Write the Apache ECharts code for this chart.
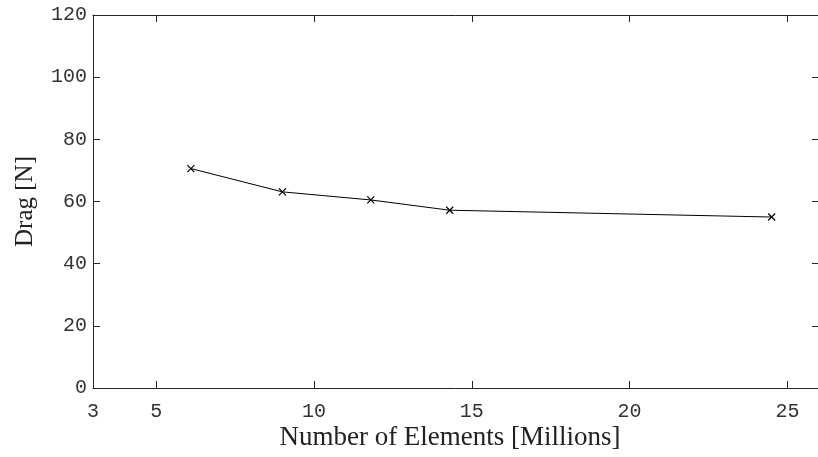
<!DOCTYPE html>
<html>
<head>
<meta charset="utf-8">
<script src="https://cdn.jsdelivr.net/npm/echarts@6/dist/echarts.min.js"></script>
<style>
  html, body { margin: 0; padding: 0; background: #fff; }
  #chart { width: 818px; height: 457px; }
</style>
</head>
<body>
<div id="chart"></div>
<script>
// mesh size (millions of elements) vs drag
const elements = [6.1, 9.0, 11.8, 14.3, 24.5]
const drag = [70.6, 63.1, 60.5, 57.2, 55.0]
const xTicks = [3, 5, 10, 15, 20, 25]

const axisColor = '#262626'
const tickFont = { fontFamily: 'Liberation Mono', fontSize: 20, color: '#333' }
const titleFont = { fontFamily: 'Liberation Serif', fontSize: 25, color: '#222' }

const chart = echarts.init(document.getElementById('chart'))

const xBase = {
  type: 'value',
  min: 3,
  max: 26,
  axisLine: { show: true, onZero: false, lineStyle: { color: axisColor, width: 1 } },
  axisTick: { show: true, inside: true, length: 7, customValues: xTicks, lineStyle: { color: axisColor } },
  splitLine: { show: false },
}
const yBase = {
  type: 'value',
  min: 0,
  max: 120,
  interval: 20,
  axisLine: { show: true, onZero: false, lineStyle: { color: axisColor, width: 1 } },
  axisTick: { show: true, inside: true, length: 7, lineStyle: { color: axisColor } },
  splitLine: { show: false },
}

chart.setOption({
  animation: false,
  grid: { left: 93, right: -1, top: 15, bottom: 69, outerBoundsMode: 'none', containLabel: false },
  xAxis: [
    {
      ...xBase,
      position: 'bottom',
      name: 'Number of Elements [Millions]',
      nameLocation: 'middle',
      nameGap: 36,
      nameMoveOverlap: false,
      nameTextStyle: { ...titleFont, fontSize: 27, padding: [0, 12, 0, 0] },
      axisLabel: { ...tickFont, margin: 14, customValues: xTicks },
    },
    { ...xBase, position: 'top', axisLabel: { show: false } },
  ],
  yAxis: [
    {
      ...yBase,
      position: 'left',
      name: 'Drag [N]',
      nameLocation: 'middle',
      nameGap: 55,
      nameMoveOverlap: false,
      nameTextStyle: titleFont,
      axisLabel: { ...tickFont, margin: 6 },
    },
    { ...yBase, position: 'right', axisLabel: { show: false } },
  ],
  series: [
    {
      type: 'line',
      data: elements.map((x, i) => [x, drag[i]]),
      symbol: 'path://M0,0L10,10M10,0L0,10',
      symbolSize: 7,
      lineStyle: { color: '#000', width: 1 },
      itemStyle: { color: 'none', borderColor: '#000', borderWidth: 1.2 },
    },
  ],
})
</script>
</body>
</html>
